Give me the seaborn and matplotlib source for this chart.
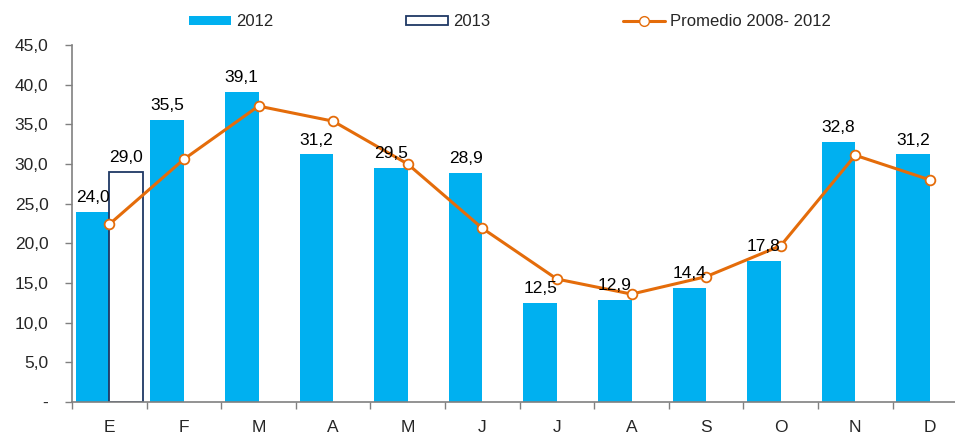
import matplotlib
matplotlib.use("Agg")
import matplotlib.pyplot as plt
import seaborn as sns
import numpy as np
import pandas as pd
from matplotlib.patches import Patch
from matplotlib.lines import Line2D

months = ["E", "F", "M", "A", "M", "J", "J", "A", "S", "O", "N", "D"]
vals_2012 = [24.0, 35.5, 39.1, 31.2, 29.5, 28.9, 12.5, 12.9, 14.4, 17.8, 32.8, 31.2]
vals_2013 = [29.0]
promedio = [22.4, 30.6, 37.3, 35.4, 30.0, 21.9, 15.5, 13.6, 15.8, 19.7, 31.1, 28.0]
yticks = [0, 5, 10, 15, 20, 25, 30, 35, 40, 45]
ytick_labels = ["-", "5,0", "10,0", "15,0", "20,0", "25,0", "30,0", "35,0", "40,0", "45,0"]

sns.set_theme(style="white")
plt.rcParams["font.family"] = ["Liberation Sans", "DejaVu Sans"]

BLUE = "#00B0F0"
NAVY = "#1F3864"
ORANGE = "#E46C0A"
FS = 12.5

fig = plt.figure(figsize=(9.55, 4.37), dpi=100)
ax = fig.add_axes([72 / 955, 1 - 402 / 437, (955 - 72) / 955, (402 - 45) / 437])

idx = np.arange(len(months))
OFF = 0.225
W = 0.45
pos_2012 = idx - OFF
pos_2013 = idx[:len(vals_2013)] + OFF
df12 = pd.DataFrame({"x": pos_2012, "y": vals_2012})
ax.bar(df12["x"], df12["y"], width=W, color=BLUE, edgecolor="none", zorder=2)
ax.bar(pos_2013, vals_2013, width=W, color="white", edgecolor=NAVY, linewidth=1.3, zorder=2)

dfl = pd.DataFrame({"x": idx, "y": promedio})
sns.lineplot(data=dfl, x="x", y="y", ax=ax, color=ORANGE, linewidth=2.2, marker="o",
             markersize=7, markerfacecolor="white", markeredgecolor=ORANGE,
             markeredgewidth=1.3, zorder=3)

for x, v in zip(pos_2012, vals_2012):
    ax.annotate(f"{v:.1f}".replace(".", ","), (x, v), xytext=(0, 5), textcoords="offset points",
                ha="center", va="bottom", fontsize=FS, color="black", zorder=4)
for x, v in zip(pos_2013, vals_2013):
    ax.annotate(f"{v:.1f}".replace(".", ","), (x, v), xytext=(0, 5),
                textcoords="offset points", ha="center", va="bottom", fontsize=FS, color="black", zorder=4)

ax.set_yticks(yticks)
ax.set_yticklabels(ytick_labels, fontsize=FS)
ax.set_xticks(idx)
ax.set_xticklabels(months, fontsize=FS)
ax.set_xticks(np.arange(-0.5, 12, 1), minor=True)
ax.set_ylim(0, 45)
ax.set_xlim(-0.5, -0.5 + (955 - 72) / 74.6)
ax.tick_params(axis="x", which="major", length=0, pad=13)
ax.tick_params(axis="x", which="minor", length=5, color="#808080", width=1, direction="out", bottom=True)
ax.tick_params(axis="y", which="major", length=5, color="#808080", width=1, direction="out", left=True, pad=12)
ax.set_xlabel("")
ax.set_ylabel("")
for s in ["top", "right"]:
    ax.spines[s].set_visible(False)
for s in ["left", "bottom"]:
    ax.spines[s].set_color("#808080")
    ax.spines[s].set_linewidth(1.2)

handles = [
    Patch(facecolor=BLUE, edgecolor="none", label="2012"),
    Patch(facecolor="white", edgecolor=NAVY, linewidth=1.3, label="2013"),
    Line2D([0], [0], color=ORANGE, linewidth=2.2, marker="o", markersize=7,
           markerfacecolor="white", markeredgecolor=ORANGE, label="Promedio 2008- 2012"),
]
fig.legend(handles=handles, loc="center", bbox_to_anchor=(0.534, 0.95), ncol=3, frameon=False,
           fontsize=12, columnspacing=8.0, handlelength=2.5, handleheight=0.48, handletextpad=0.3)

fig.savefig("out.png", dpi=100)
